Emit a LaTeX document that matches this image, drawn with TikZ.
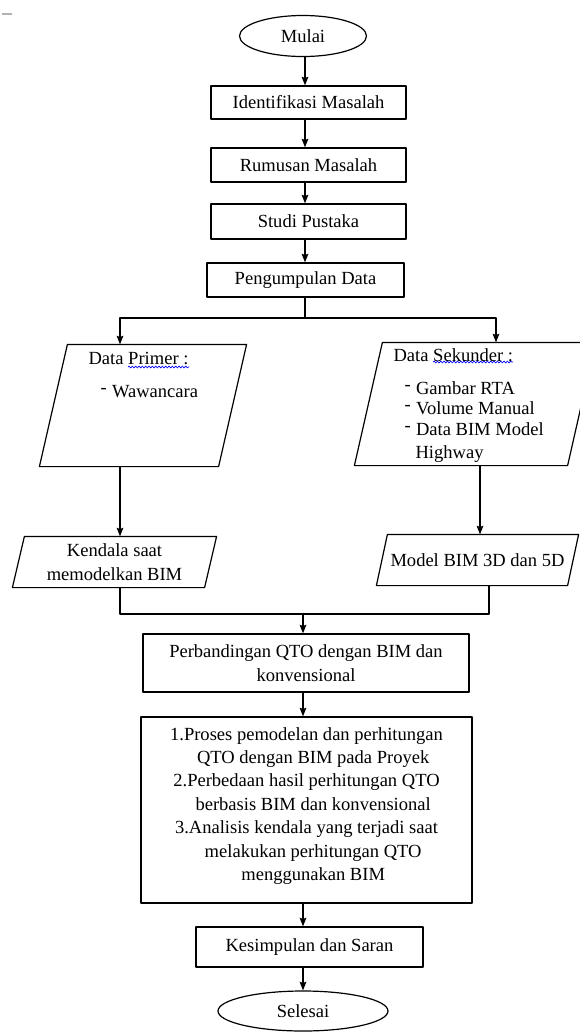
\documentclass[tikz,border=0pt]{standalone}
\usepackage{fontspec}
\setmainfont{Liberation Serif}
\usetikzlibrary{arrows.meta,decorations.pathmorphing,shapes.geometric}
\def\butir{\raisebox{3pt}{-}\hspace{4pt}}
% bingkai jajaran genjang di sekeliling node: #1 nama node, #2 geser miring (px)
\newcommand\bingkaijajar[2]{\draw ([xshift=#2*0.75pt]#1.north west) -- (#1.north east)
  -- ([xshift=-#2*0.75pt]#1.south east) -- (#1.south west) -- cycle;}
\begin{document}
\begin{tikzpicture}[x=0.75pt, y=-0.75pt, line width=0.9pt, line join=round,
  font=\fontsize{13.9}{17.6}\selectfont, >={Stealth[length=6.5pt,width=5pt,inset=1pt]},
  kotak/.style 2 args={draw, rectangle, minimum width=#1*0.75pt, minimum height=#2*0.75pt, inner sep=0pt, align=center},
  elips/.style 2 args={draw, ellipse, minimum width=#1*0.75pt, minimum height=#2*0.75pt, inner sep=0pt},
  jajar/.style 2 args={rectangle, minimum width=#1*0.75pt, minimum height=#2*0.75pt, inner sep=0pt, align=center},
  teks/.style={anchor=west, inner sep=0pt},
  gelombang/.style={blue, line width=0.5pt, decorate, decoration={snake, amplitude=0.7pt, segment length=2.5pt}}]
\useasboundingbox (0,0) rectangle (580,1032);
\clip (0,0) rectangle (580,1032);
\draw[gray!60, line width=1pt] (2,14) -- (12,14);
% alur atas
\node[elips={127}{41}] (mulai) at (303,36) {Mulai};
\node[kotak={195}{33}] (identifikasi) at (308.5,102.5) {Identifikasi Masalah};
\node[kotak={195}{34}] (rumusan) at (308.5,165) {Rumusan Masalah};
\node[kotak={195}{35}] (studi) at (308.5,221.5) {Studi Pustaka};
\node[kotak={197}{34}] (pengumpulan) at (305.5,280) {Pengumpulan Data};
\coordinate (jalur) at (305,0);
\draw[->] (mulai.south -| jalur) -- (identifikasi.north -| jalur);
\draw[->] (identifikasi.south -| jalur) -- (rumusan.north -| jalur);
\draw[->] (rumusan.south -| jalur) -- (studi.north -| jalur);
\draw[->] (studi.south -| jalur) -- (pengumpulan.north -| jalur);
% data primer dan sekunder
\node[jajar={206}{121}] (primer) at (143,405.5) {};
\node[jajar={240}{122}] (sekunder) at (475,404) {};
\bingkaijajar{primer}{28}
\bingkaijajar{sekunder}{28}
\node[teks] (tprimer) at (88,358) {Data Primer :};
\node[teks] (wawancara) at (100,392) {\butir Wawancara};
\node[teks] (tsekunder) at (393,355) {Data Sekunder :};
\foreach \y/\isi in {388/Gambar RTA, 408/Volume Manual, 429/Data BIM Model}
  \node[teks] (b\y) at (404,\y) {\butir\isi};
\node[teks] (highway) at (415,454) {Highway};
\draw[gelombang] (128,367) -- (189,367);
\draw[gelombang] (433,362) -- (513,362);
\coordinate (kiri) at (120,318);
\coordinate (kanan) at (496,318);
\draw[->] (pengumpulan.south -| jalur) |- (kiri) -- (kiri |- primer.north);
\draw[->] (pengumpulan.south -| jalur) |- (kanan) -- (kanan |- sekunder.north);
\node[jajar={203}{50}] (kendala) at (114.5,562) {Kendala saat\\memodelkan BIM};
\node[jajar={201}{50}] (model) at (477.5,560) {Model BIM 3D dan 5D};
\bingkaijajar{kendala}{12}
\bingkaijajar{model}{11}
\coordinate (kanan2) at (480,0);
\draw[->] (primer.south -| kiri) -- (kendala.north -| kiri);
\draw[->] (sekunder.south -| kanan2) -- (model.north -| kanan2);
% alur bawah
\coordinate (kiri3) at (120,614);
\coordinate (kanan3) at (489,614);
\coordinate (gabung) at (303,614);
\draw (kendala.south -| kiri3) -- (kiri3) -- (kanan3) -- (model.south -| kanan3);
\node[kotak={326}{58}] (perbandingan) at (306,663) {Perbandingan QTO dengan BIM dan\\konvensional};
\node[kotak={331}{186}] (hasil) at (306.5,810) {1.Proses pemodelan dan perhitungan\\\hspace*{10pt}QTO dengan BIM pada Proyek\\2.Perbedaan hasil perhitungan QTO\\\hspace*{10pt}berbasis BIM dan konvensional\\3.Analisis kendala yang terjadi saat\\\hspace*{10pt}melakukan perhitungan QTO\\\hspace*{10pt}menggunakan BIM\\[-8.6pt]\mbox{}};
\node[kotak={227}{40}] (kesimpulan) at (309.5,947) {Kesimpulan dan Saran};
\node[elips={170}{40}] (selesai) at (303,1011) {Selesai};
\draw[->] (gabung) -- (perbandingan.north -| gabung);
\draw[->] (perbandingan.south -| gabung) -- (hasil.north -| gabung);
\draw[->] (hasil.south -| gabung) -- (kesimpulan.north -| gabung);
\draw[->] (kesimpulan.south -| gabung) -- (selesai.north -| gabung);
\end{tikzpicture}
\end{document}
